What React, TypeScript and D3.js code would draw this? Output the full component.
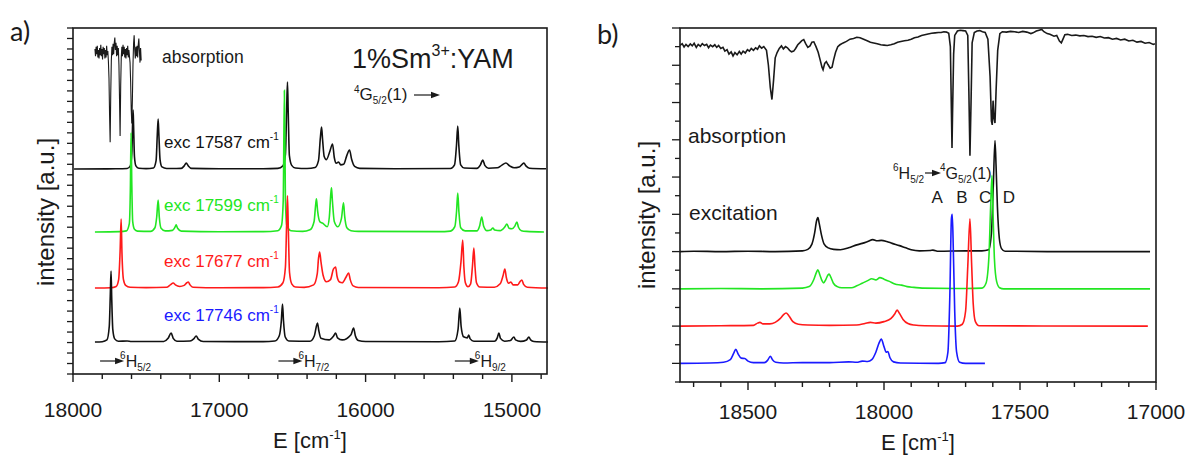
import React from "react";
import * as d3 from "d3";

type Pt = [number, number];

// ---------- panel a: absorption and site-selective emission of 1%Sm3+:YAM ----------
const xTicksA = [18000, 17000, 16000, 15000];

// absorption near 6H5/2 -> 4G5/2(1), sampled every 4 cm-1 from 17850 cm-1 downwards
const absorptionStartA = 17850;
const absorptionStepA = -4;
const absorptionA = [
  0.3, -0.4, 0.5, -0.2, 0.6, -0.5, 0.2, -0.6, 0.4, -0.3, 0.7, -0.4, 0.3, -0.7, 0.5, -0.2,
  0.4, -0.6, 0.2, -0.5, 0.6, -0.3, 0.1, -0.9, -2.5, -6.0, -8.6, -4.0, -0.8, 0.5, -0.3, 0.8,
  -0.2, 0.9, 1.4, 0.2, 0.9, -0.4, 0.6, -0.3, 0.4, -1.2, -4.5, -8.0, -3.2, -0.5, 0.5, -0.4,
  0.7, -0.2, 0.5, -0.5, 0.3, -0.6, 0.4, -0.3, 0.6, -0.5, 0.2, -0.4, -1.0, -2.8, -5.5, -6.8,
  -4.5, -1.2, 0.8, 1.6, 0.2, -0.6, 0.5, -0.4, 0.6, -0.5, 0.7, 1.3, 0.1, -1.0, 0.4, -0.8,
];
const absorptionOffsetA = 30.7;

// emission spectra [E (cm-1), intensity above own baseline]
const emissionExc17587: Pt[] = [
  [17993, 0], [17700, 0.02], [17630, 0.05], [17608, 0.3], [17598, 1.5], [17592, 4.6], [17589, 5.63],
  [17586, 4.2], [17580, 1.2], [17570, 0.3], [17550, 0.08], [17500, 0.04], [17450, 0.1], [17432, 0.8],
  [17424, 3.2], [17418, 4.77], [17413, 3.3], [17405, 0.9], [17392, 0.2], [17360, 0.05], [17260, 0.06],
  [17240, 0.3], [17226, 0.57], [17212, 0.3], [17190, 0.06], [17000, 0.02], [16700, 0.02], [16600, 0.06],
  [16565, 0.3], [16548, 1.4], [16540, 5.5], [16534, 8.3], [16529, 5.5], [16521, 1.3], [16505, 0.35],
  [16480, 0.1], [16400, 0.05], [16345, 0.15], [16322, 0.8], [16309, 3.0], [16301, 4.0], [16294, 2.8],
  [16283, 1.2], [16268, 0.9], [16244, 1.7], [16226, 2.39], [16214, 1.1], [16200, 0.55], [16185, 0.67],
  [16170, 0.4], [16150, 0.45], [16128, 1.3], [16110, 1.81], [16095, 0.9], [16075, 0.25], [16040, 0.06],
  [15800, 0.03], [15420, 0.05], [15392, 0.4], [15379, 2.2], [15370, 4.1], [15363, 2.3], [15350, 0.4],
  [15325, 0.1], [15240, 0.06], [15215, 0.4], [15199, 0.86], [15185, 0.35], [15160, 0.08], [15100, 0.12],
  [15070, 0.35], [15041, 0.57], [15015, 0.3], [14985, 0.12], [14950, 0.2], [14930, 0.45], [14918, 0.57],
  [14904, 0.3], [14880, 0.08], [14767, 0.02],
];
const emissionExc17599: Pt[] = [
  [17850, 0], [17680, 0.03], [17635, 0.1], [17615, 0.8], [17608, 4.0], [17603, 9.45], [17598, 4.5],
  [17592, 1.0], [17580, 0.25], [17560, 0.08], [17470, 0.05], [17440, 0.4], [17428, 1.4], [17418, 3.05],
  [17410, 1.4], [17398, 0.35], [17370, 0.1], [17320, 0.15], [17303, 0.45], [17295, 0.67], [17285, 0.35],
  [17260, 0.08], [17000, 0.02], [16700, 0.03], [16600, 0.12], [16575, 0.6], [16563, 3.0], [16555, 13.5],
  [16548, 3.0], [16538, 0.6], [16510, 0.12], [16430, 0.05], [16380, 0.2], [16352, 1.0], [16342, 2.5],
  [16336, 3.15], [16328, 2.0], [16312, 0.95], [16295, 0.85], [16262, 0.5], [16248, 1.4], [16238, 3.6],
  [16233, 4.2], [16227, 3.0], [16214, 1.0], [16190, 0.5], [16165, 1.3], [16151, 2.77], [16143, 1.5],
  [16128, 0.4], [16100, 0.12], [16050, 0.05], [15500, 0.03], [15420, 0.08], [15390, 0.5], [15378, 2.0],
  [15370, 3.72], [15362, 1.9], [15350, 0.4], [15320, 0.1], [15240, 0.1], [15220, 0.6], [15206, 1.43],
  [15194, 0.6], [15170, 0.12], [15145, 0.18], [15130, 0.38], [15118, 0.18], [15080, 0.12], [15050, 0.45],
  [15034, 0.76], [15020, 0.35], [15000, 0.3], [14980, 0.55], [14966, 0.95], [14955, 0.45], [14935, 0.12],
  [14900, 0.05], [14781, 0],
];
const emissionExc17677: Pt[] = [
  [17850, 0], [17740, 0.03], [17705, 0.15], [17688, 0.8], [17678, 3.5], [17671, 6.58], [17665, 3.2],
  [17655, 0.8], [17640, 0.25], [17610, 0.08], [17500, 0.04], [17360, 0.08], [17335, 0.3], [17315, 0.48],
  [17300, 0.3], [17270, 0.15], [17240, 0.25], [17222, 0.5], [17212, 0.57], [17200, 0.3], [17180, 0.08],
  [17000, 0.03], [16700, 0.04], [16600, 0.1], [16565, 0.5], [16548, 2.0], [16540, 6.0], [16534, 8.8],
  [16528, 5.5], [16520, 1.5], [16505, 0.4], [16480, 0.1], [16420, 0.06], [16355, 0.3], [16330, 1.4],
  [16322, 2.8], [16314, 3.43], [16305, 2.5], [16290, 1.2], [16268, 0.6], [16240, 0.8], [16220, 1.8],
  [16205, 2.0], [16195, 1.1], [16178, 0.57], [16160, 0.5], [16135, 1.0], [16116, 1.43], [16105, 0.8],
  [16085, 0.2], [16050, 0.05], [15500, 0.03], [15390, 0.1], [15365, 0.6], [15348, 2.5], [15336, 4.58],
  [15328, 2.0], [15318, 0.5], [15300, 0.12], [15282, 0.4], [15270, 2.0], [15260, 3.82], [15252, 2.0],
  [15242, 0.5], [15220, 0.1], [15120, 0.08], [15080, 0.4], [15060, 1.2], [15048, 1.81], [15038, 1.0],
  [15022, 0.45], [15007, 0.57], [14992, 0.3], [14960, 0.3], [14945, 0.6], [14932, 0.76], [14920, 0.35],
  [14895, 0.08], [14753, 0],
];
const emissionExc17746: Pt[] = [
  [17850, 0], [17800, 0.03], [17768, 0.2], [17752, 1.5], [17745, 4.5], [17740, 6.77], [17735, 4.0],
  [17728, 1.2], [17715, 0.3], [17690, 0.08], [17630, 0.1], [17600, 0.05], [17380, 0.05], [17350, 0.35],
  [17329, 0.86], [17315, 0.35], [17290, 0.08], [17200, 0.1], [17175, 0.3], [17158, 0.57], [17142, 0.25],
  [17110, 0.05], [16700, 0.04], [16620, 0.1], [16590, 0.6], [16576, 2.0], [16568, 3.63], [16561, 2.0],
  [16550, 0.5], [16525, 0.1], [16380, 0.08], [16350, 0.6], [16338, 1.4], [16329, 1.81], [16320, 1.1],
  [16305, 0.35], [16250, 0.2], [16220, 0.55], [16205, 0.86], [16192, 0.4], [16160, 0.2], [16100, 0.7],
  [16082, 1.34], [16070, 0.6], [16050, 0.15], [16000, 0.05], [15500, 0.03], [15390, 0.1], [15368, 1.2],
  [15356, 3.24], [15347, 1.5], [15330, 0.5], [15305, 0.4], [15295, 0.67], [15285, 0.3], [15260, 0.08],
  [15120, 0.08], [15100, 0.4], [15089, 0.86], [15078, 0.35], [15050, 0.08], [15010, 0.15], [14986, 0.48],
  [14975, 0.2], [14940, 0.06], [14900, 0.2], [14884, 0.48], [14872, 0.2], [14850, 0.05], [14753, 0],
];
const emissionSpectraA = [emissionExc17587, emissionExc17599, emissionExc17677, emissionExc17746];
const excitationEnergiesA = ["17587", "17599", "17677", "17746"];
const emissionOffsetsA = [19.55, 13.55, 8.2, 3.05];
const emissionColorsA = ["#111", "#22e622", "#ff1a1a", "#111"];
const labelColorsA = ["#111", "#22e622", "#ff1a1a", "#1a1aff"];

// terminal multiplets 6H_J (energy where the arrow starts)
const levelEnergiesA = [17815, 16596, 15390];
const levelJA = ["5/2", "7/2", "9/2"];

// ---------- panel b: absorption and excitation spectra ----------
const xTicksB = [18500, 18000, 17500, 17000];

const absorptionB: Pt[] = [
  [18750, 0.03], [18742, 0.08], [18735, -0.01], [18728, 0.06], [18720, 0.0], [18712, 0.07], [18705, 0.02],
  [18698, 0.09], [18690, -0.02], [18683, 0.06], [18675, 0.01], [18668, 0.08], [18660, 0.03], [18652, 0.06],
  [18645, -0.03], [18638, 0.04], [18630, 0.0], [18622, 0.05], [18615, -0.02], [18608, 0.03], [18600, -0.05],
  [18592, -0.02], [18585, -0.12], [18577, -0.08], [18570, -0.2], [18562, -0.14], [18555, -0.25], [18548, -0.16],
  [18540, -0.22], [18532, -0.13], [18525, -0.2], [18518, -0.12], [18510, -0.17], [18502, -0.08], [18495, -0.12],
  [18488, -0.05], [18480, -0.1], [18472, -0.03], [18465, -0.07], [18458, 0.02], [18450, -0.04], [18442, 0.0],
  [18432, -0.1], [18425, -0.5], [18418, -1.1], [18412, -1.42], [18406, -0.9], [18400, -0.3], [18393, -0.16],
  [18385, -0.05], [18377, 0.02], [18370, -0.06], [18362, 0.0], [18355, -0.03], [18347, -0.1], [18340, -0.14],
  [18332, -0.12], [18325, -0.05], [18317, 0.05], [18310, 0.1], [18302, 0.16], [18295, 0.19], [18288, 0.08],
  [18280, -0.02], [18272, 0.02], [18265, 0.12], [18258, 0.13], [18250, 0.0], [18242, -0.15], [18235, -0.35],
  [18228, -0.55], [18224, -0.62], [18218, -0.45], [18212, -0.4], [18206, -0.48], [18198, -0.58], [18191, -0.55],
  [18185, -0.35], [18178, -0.15], [18170, 0.0], [18162, 0.05], [18150, 0.1], [18138, 0.14], [18125, 0.2],
  [18112, 0.22], [18100, 0.25], [18088, 0.24], [18075, 0.2], [18062, 0.16], [18050, 0.12], [18038, 0.1],
  [18025, 0.08], [18012, 0.05], [18000, 0.04], [17988, 0.03], [17975, 0.05], [17962, 0.08], [17950, 0.12],
  [17938, 0.14], [17925, 0.16], [17912, 0.17], [17900, 0.2], [17888, 0.24], [17875, 0.26], [17862, 0.3],
  [17850, 0.32], [17838, 0.34], [17825, 0.36], [17812, 0.37], [17800, 0.38], [17790, 0.38], [17780, 0.4],
  [17770, 0.39], [17762, 0.36], [17756, 0.0], [17752, -1.8], [17750, -2.72], [17748, -1.8], [17744, -0.2],
  [17740, 0.3], [17730, 0.42], [17720, 0.44], [17710, 0.43], [17700, 0.42], [17692, 0.3], [17688, -1.2],
  [17684, -2.93], [17680, -1.5], [17676, 0.1], [17668, 0.38], [17658, 0.42], [17648, 0.43], [17638, 0.4],
  [17628, 0.38], [17618, 0.2], [17610, -0.8], [17605, -2.0], [17602, -2.1], [17599, -1.45], [17596, -1.9],
  [17592, -2.05], [17588, -1.2], [17582, -0.1], [17574, 0.35], [17565, 0.4], [17550, 0.39], [17535, 0.41],
  [17520, 0.4], [17505, 0.38], [17490, 0.41], [17475, 0.39], [17460, 0.35], [17452, 0.37], [17440, 0.42],
  [17430, 0.44], [17420, 0.46], [17412, 0.4], [17400, 0.35], [17390, 0.33], [17375, 0.28], [17365, 0.3],
  [17355, 0.15], [17348, 0.1], [17342, 0.2], [17335, 0.32], [17325, 0.33], [17310, 0.3], [17295, 0.31],
  [17280, 0.29], [17265, 0.3], [17250, 0.27], [17235, 0.28], [17220, 0.25], [17205, 0.27], [17190, 0.23],
  [17175, 0.24], [17160, 0.2], [17145, 0.22], [17130, 0.18], [17115, 0.2], [17100, 0.15], [17085, 0.17],
  [17070, 0.12], [17055, 0.14], [17040, 0.09], [17025, 0.11], [17010, 0.06], [17004, 0.08],
];
const absorptionOffsetB = 8.5;

// excitation spectra for the four sites, D (top) to A (bottom)
const excitationD: Pt[] = [
  [18750, 0], [18700, 0.01], [18600, 0], [18500, 0.01], [18400, 0], [18300, 0.02], [18280, 0.06], [18265, 0.2],
  [18255, 0.5], [18248, 0.82], [18243, 0.91], [18238, 0.75], [18230, 0.45], [18220, 0.2], [18205, 0.1],
  [18185, 0.06], [18160, 0.05], [18130, 0.1], [18100, 0.18], [18080, 0.22], [18060, 0.27], [18041, 0.32],
  [18025, 0.29], [18010, 0.3], [17990, 0.27], [17970, 0.22], [17943, 0.16], [17920, 0.1], [17900, 0.05],
  [17870, 0.02], [17830, 0.03], [17820, 0.04], [17800, 0.01], [17700, 0.02], [17640, 0.02], [17615, 0.05],
  [17605, 0.5], [17598, 1.8], [17592, 2.98], [17588, 2.3], [17583, 1.2], [17576, 0.35], [17568, 0.08],
  [17555, 0.01], [17400, 0], [17022, 0],
];
const excitationC: Pt[] = [
  [18750, 0], [18600, 0.01], [18450, 0], [18300, 0.02], [18275, 0.06], [18258, 0.25], [18248, 0.45],
  [18243, 0.51], [18236, 0.38], [18228, 0.22], [18222, 0.16], [18214, 0.25], [18206, 0.37], [18202, 0.4],
  [18196, 0.32], [18186, 0.15], [18172, 0.06], [18155, 0.03], [18120, 0.03], [18100, 0.08], [18080, 0.15],
  [18060, 0.22], [18045, 0.27], [18030, 0.24], [18015, 0.3], [18000, 0.26], [17980, 0.2], [17960, 0.13],
  [17936, 0.1], [17915, 0.06], [17890, 0.04], [17860, 0.02], [17700, 0.01], [17640, 0.02], [17625, 0.15],
  [17614, 0.9], [17608, 2.2], [17603, 3.04], [17599, 2.0], [17594, 0.8], [17586, 0.2], [17575, 0.03],
  [17560, 0], [17022, 0],
];
const excitationB: Pt[] = [
  [18750, 0], [18600, 0.01], [18480, 0.02], [18465, 0.08], [18456, 0.1], [18445, 0.06], [18420, 0.06],
  [18400, 0.1], [18382, 0.2], [18370, 0.3], [18360, 0.35], [18350, 0.28], [18335, 0.12], [18315, 0.05],
  [18280, 0.03], [18200, 0.02], [18100, 0.03], [18070, 0.07], [18050, 0.1], [18030, 0.08], [18000, 0.12],
  [17975, 0.2], [17960, 0.33], [17952, 0.43], [17944, 0.35], [17930, 0.18], [17912, 0.07], [17890, 0.03],
  [17850, 0.01], [17730, 0], [17712, 0.05], [17700, 0.4], [17692, 1.6], [17684, 2.88], [17678, 1.7],
  [17672, 0.6], [17664, 0.12], [17650, 0.01], [17030, 0],
];
const excitationA: Pt[] = [
  [18750, 0], [18640, 0.01], [18590, 0.03], [18565, 0.1], [18552, 0.28], [18545, 0.38], [18536, 0.25],
  [18525, 0.14], [18512, 0.13], [18500, 0.06], [18480, 0.02], [18440, 0.02], [18428, 0.08], [18418, 0.19],
  [18410, 0.1], [18398, 0.03], [18370, 0.01], [18300, 0.02], [18200, 0.02], [18130, 0.04], [18100, 0.03],
  [18080, 0.06], [18060, 0.05], [18045, 0.1], [18030, 0.3], [18018, 0.55], [18010, 0.65], [18000, 0.45],
  [17992, 0.3], [17986, 0.32], [17978, 0.15], [17965, 0.04], [17940, 0.01], [17800, 0], [17775, 0.02],
  [17765, 0.3], [17758, 1.8], [17752, 3.9], [17749, 4.0], [17745, 3.0], [17740, 1.4], [17733, 0.3],
  [17722, 0.03], [17700, 0], [17629, 0],
];
const excitationSpectraB = [excitationD, excitationC, excitationB, excitationA];
const excitationOffsetsB = [3, 2, 1, 0];
const excitationColorsB = ["#111", "#22e622", "#ff1a1a", "#1a1aff"];
const siteLetters = ["A", "B", "C", "D"];
const siteEnergies = [17746, 17677, 17599, 17592];

const SANS = "'Liberation Sans', Arial, Helvetica, sans-serif";
const PANEL_FONT = "Lato, 'Open Sans', sans-serif";
const INK = "#1a1a1a";

function Arrow({ x1, x2, y }: { x1: number; x2: number; y: number }) {
  return (
    <g>
      <line x1={x1} x2={x2 - 7} y1={y} y2={y} stroke={INK} strokeWidth={1.2} />
      <path d={`M${x2},${y} L${x2 - 9},${y - 3.2} L${x2 - 9},${y + 3.2} Z`} fill={INK} />
    </g>
  );
}

export default function App() {
  // panel a scales
  const xA = d3.scaleLinear().domain([18000, 14760]).range([73, 547]);
  const yA = d3.scaleLinear().domain([0, 33]).range([374, 28]);
  // panel b scales
  const xB = d3.scaleLinear().domain([18750, 17000]).range([680, 1156]);
  const yB = d3.scaleLinear().domain([-0.5, 9]).range([382, 28]);

  const lineA = (off: number, curve: d3.CurveFactory = d3.curveMonotoneX) =>
    d3.line<Pt>().x((d) => xA(d[0])).y((d) => yA(d[1] + off)).curve(curve);
  const lineB = (off: number, curve: d3.CurveFactory = d3.curveMonotoneX) =>
    d3.line<Pt>().x((d) => xB(d[0])).y((d) => yB(d[1] + off)).curve(curve);

  const absA: Pt[] = absorptionA.map((v, i) => [absorptionStartA + i * absorptionStepA, v]);

  const [ax0, ax1] = xA.range();
  const [ay0, ay1] = yA.range();
  const [bx0, bx1] = xB.range();
  const [by0, by1] = yB.range();

  const minorA = d3.range(18000, 14700, -200);
  const yTicksA = d3.range(0, 34, 1);
  const minorB = d3.range(18700, 16999, -100);
  const yTicksB = d3.range(-0.5, 9.01, 0.5);

  return (
    <svg
      width={1187}
      height={457}
      viewBox="0 0 1187 457"
      style={{ position: "absolute", left: 0, top: 0, background: "#fff", display: "block" }}
      fontFamily={SANS}
    >
      <rect width={1187} height={457} fill="#fff" />

      {/* ===== panel a ===== */}
      <text x={10} y={41} fontFamily={PANEL_FONT} fontSize={27} fill={INK}>a)</text>

      {/* traces */}
      <path d={lineA(absorptionOffsetA, d3.curveLinear)(absA) || ""} fill="none" stroke={INK} strokeWidth={1.1} />
      {emissionSpectraA.map((s, i) => (
        <path key={i} d={lineA(emissionOffsetsA[i])(s) || ""} fill="none" stroke={emissionColorsA[i]} strokeWidth={1.6} />
      ))}

      {/* frame and ticks */}
      <rect x={ax0} y={ay1} width={ax1 - ax0} height={ay0 - ay1} fill="none" stroke={INK} strokeWidth={1.6} />
      {minorA.map((v) => (
        <line key={v} x1={xA(v)} x2={xA(v)} y1={ay0} y2={ay0 + (v % 1000 === 0 ? 8 : 5)} stroke={INK} strokeWidth={1.4} />
      ))}
      {yTicksA.map((v) => (
        <line key={v} x1={ax0 - 6} x2={ax0} y1={yA(v)} y2={yA(v)} stroke={INK} strokeWidth={1.3} />
      ))}
      {xTicksA.map((v) => (
        <text key={v} x={xA(v)} y={417} textAnchor="middle" fontSize={21} fill={INK}>{v}</text>
      ))}
      <text x={(ax0 + ax1) / 2} y={448} textAnchor="middle" fontSize={22} fill={INK}>
        E [cm<tspan dy={-9} fontSize={13}>-1</tspan><tspan dy={9}>]</tspan>
      </text>
      <text transform={`translate(54, 212) rotate(-90)`} textAnchor="middle" fontSize={24} fill={INK}>
        intensity [a.u.]
      </text>

      {/* annotations */}
      <text x={162} y={63} fontSize={17.5} fill={INK}>absorption</text>
      <text x={352} y={68} fontSize={27} fill={INK}>
        1%Sm<tspan dy={-12} fontSize={16}>3+</tspan><tspan dy={12}>:YAM</tspan>
      </text>
      <text x={354} y={100} fontSize={17} fill={INK}>
        <tspan dy={-7} fontSize={10}>4</tspan>
        <tspan dy={7}>G</tspan>
        <tspan dy={4} fontSize={10}>5/2</tspan>
        <tspan dy={-4}>(1)</tspan>
      </text>
      <Arrow x1={414} x2={440} y={95} />
      {excitationEnergiesA.map((e, i) => (
        <text key={e} x={164} y={yA(emissionOffsetsA[i]) - 21} fontSize={17} fill={labelColorsA[i]}>
          exc {e} cm<tspan dy={-8} fontSize={10}>-1</tspan>
        </text>
      ))}
      {levelEnergiesA.map((e, i) => {
        const x = xA(e);
        return (
          <g key={e}>
            <Arrow x1={x} x2={x + 24} y={361} />
            <text x={x + 20} y={367} fontSize={16} fill={INK}>
              <tspan dy={-8} fontSize={10}>6</tspan>
              <tspan dy={8}>H</tspan>
              <tspan dy={4} fontSize={10}>{levelJA[i]}</tspan>
            </text>
          </g>
        );
      })}

      {/* ===== panel b ===== */}
      <text x={597} y={44} fontFamily={PANEL_FONT} fontSize={27} fill={INK}>b)</text>

      <path d={lineB(absorptionOffsetB, d3.curveLinear)(absorptionB) || ""} fill="none" stroke={INK} strokeWidth={1.6} />
      {excitationSpectraB.map((s, i) => (
        <path key={i} d={lineB(excitationOffsetsB[i])(s) || ""} fill="none" stroke={excitationColorsB[i]} strokeWidth={1.6} />
      ))}

      <rect x={bx0} y={by1} width={bx1 - bx0} height={by0 - by1} fill="none" stroke={INK} strokeWidth={1.6} />
      {minorB.map((v) => (
        <line key={v} x1={xB(v)} x2={xB(v)} y1={by0} y2={by0 + (v % 500 === 0 ? 8 : 5)} stroke={INK} strokeWidth={1.4} />
      ))}
      {yTicksB.map((v) => (
        <line key={v} x1={bx0 - (Number.isInteger(v) ? 8 : 5)} x2={bx0} y1={yB(v)} y2={yB(v)} stroke={INK} strokeWidth={1.3} />
      ))}
      {xTicksB.map((v) => (
        <text key={v} x={xB(v)} y={419} textAnchor="middle" fontSize={21} fill={INK}>{v}</text>
      ))}
      <text x={(bx0 + bx1) / 2} y={450} textAnchor="middle" fontSize={22} fill={INK}>
        E [cm<tspan dy={-9} fontSize={13}>-1</tspan><tspan dy={9}>]</tspan>
      </text>
      <text transform={`translate(655, 215) rotate(-90)`} textAnchor="middle" fontSize={24} fill={INK}>
        intensity [a.u.]
      </text>

      <text x={688} y={143} fontSize={21} fill={INK}>absorption</text>
      <text x={689} y={220} fontSize={21} fill={INK}>excitation</text>
      <text x={893} y={179} fontSize={16} fill={INK}>
        <tspan dy={-8} fontSize={10}>6</tspan>
        <tspan dy={8}>H</tspan>
        <tspan dy={4} fontSize={10}>5/2</tspan>
      </text>
      <Arrow x1={925} x2={941} y={173} />
      <text x={940} y={179} fontSize={16} fill={INK}>
        <tspan dy={-8} fontSize={10}>4</tspan>
        <tspan dy={8}>G</tspan>
        <tspan dy={4} fontSize={10}>5/2</tspan>
        <tspan dy={-4}>(1)</tspan>
      </text>
      {siteLetters.map((s, i) => (
        <text key={s} x={xB(siteEnergies[i]) + [-16, -10, -8, 14][i]} y={203} fontSize={17} textAnchor="middle" fill={INK}>
          {s}
        </text>
      ))}
    </svg>
  );
}
